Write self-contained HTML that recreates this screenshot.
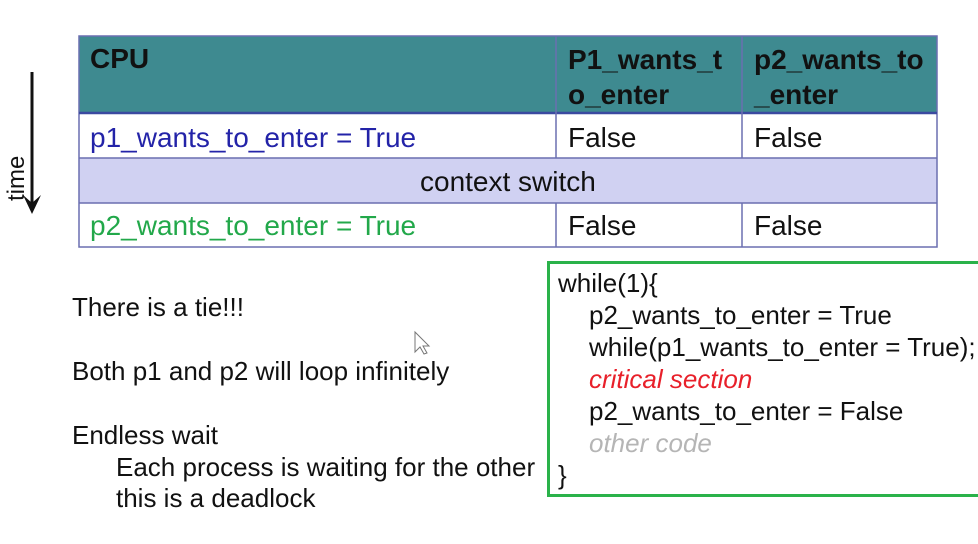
<!DOCTYPE html>
<html><head><style>
body{margin:0;width:978px;height:544px;background:#fff;position:relative;overflow:hidden;font-family:"Liberation Sans",Arial,sans-serif;}
.a{position:absolute;white-space:nowrap;}
.t{font-size:28px;}
.b{font-size:26px;}
.cell{position:absolute;box-sizing:border-box;}
</style></head><body>
<div class="cell" style="left:79px;top:36px;width:858px;height:77px;background:#3e8a90;"></div>
<div class="cell" style="left:79px;top:158px;width:858px;height:45px;background:#d0d1f2;"></div>
<svg class="a" style="left:0;top:0" width="978" height="544">
<g stroke="#6a6fb0" stroke-width="1.5" fill="none">
<rect x="79" y="36" width="858" height="211"/>
<line x1="79" y1="113" x2="937" y2="113" stroke-width="2.5" stroke="#3b4aa0"/>
<line x1="79" y1="158" x2="937" y2="158"/>
<line x1="79" y1="203" x2="937" y2="203"/>
<line x1="556" y1="36" x2="556" y2="158"/>
<line x1="742" y1="36" x2="742" y2="158"/>
<line x1="556" y1="203" x2="556" y2="247"/>
<line x1="742" y1="203" x2="742" y2="247"/>
</g>
<line x1="32" y1="72" x2="32" y2="210" stroke="#111" stroke-width="3"/>
<polygon points="23,195 32,214 41,195 32,203" fill="#111"/>
<rect x="548.5" y="262.5" width="440" height="233" fill="none" stroke="#2ab24a" stroke-width="3"/>
<path d="M415 332 L415 352 L420 347 L424 354 L427 353 L423 346 L429 346 Z" fill="#fff" stroke="#777" stroke-width="1"/>
</svg>
<div class="a t" style="left:90px;top:43px;font-weight:bold;color:#111">CPU</div>
<div class="a t" style="left:568px;top:42px;font-weight:bold;color:#111;line-height:35px">P1_wants_t<br>o_enter</div>
<div class="a t" style="left:754px;top:42px;font-weight:bold;color:#111;line-height:35px">p2_wants_to<br>_enter</div>
<div class="a t" style="left:90px;top:122px;color:#2323a8">p1_wants_to_enter = True</div>
<div class="a t" style="left:568px;top:122px;color:#111">False</div>
<div class="a t" style="left:754px;top:122px;color:#111">False</div>
<div class="a t" style="left:420px;top:166px;color:#111">context switch</div>
<div class="a t" style="left:90px;top:210px;color:#22a84a">p2_wants_to_enter = True</div>
<div class="a t" style="left:568px;top:210px;color:#111">False</div>
<div class="a t" style="left:754px;top:210px;color:#111">False</div>
<div class="a" style="left:-5px;top:165px;font-size:24px;color:#111;transform:rotate(-90deg);transform-origin:center;width:44px;text-align:center">time</div>
<div class="a b" style="left:72px;top:292px;color:#111">There is a tie!!!</div>
<div class="a b" style="left:72px;top:356px;color:#111">Both p1 and p2 will loop infinitely</div>
<div class="a b" style="left:72px;top:420px;color:#111">Endless wait</div>
<div class="a b" style="left:116px;top:452px;color:#111">Each process is waiting for the other</div>
<div class="a b" style="left:116px;top:483px;color:#111">this is a deadlock</div>
<div class="a b" style="left:558px;top:268px;color:#111">while(1){</div>
<div class="a b" style="left:589px;top:300px;color:#111">p2_wants_to_enter = True</div>
<div class="a b" style="left:589px;top:332px;color:#111">while(p1_wants_to_enter = True);</div>
<div class="a b" style="left:589px;top:364px;color:#e8202a;font-style:italic">critical section</div>
<div class="a b" style="left:589px;top:396px;color:#111">p2_wants_to_enter = False</div>
<div class="a b" style="left:589px;top:428px;color:#b5b5b5;font-style:italic">other code</div>
<div class="a b" style="left:558px;top:460px;color:#111">}</div>
</body></html>
